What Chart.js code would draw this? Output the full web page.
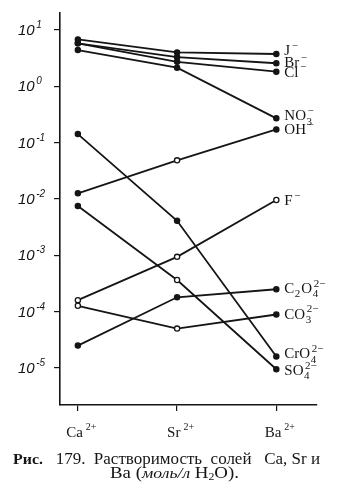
<!DOCTYPE html>
<html>
<head>
<meta charset="utf-8">
<script src="https://cdn.jsdelivr.net/npm/chart.js@4.4.1/dist/chart.umd.min.js"></script>
<style>
html,body{margin:0;padding:0;background:#fff;}
canvas{display:block;}
</style>
</head>
<body>
<canvas id="c" width="344" height="490"></canvas>
<script>
// ---- data (mol/L H2O) ----
const cations = ['Ca', 'Sr', 'Ba'];
const J_vals    = [6.8,    4.0,    3.75];
const Br_vals   = [5.8,    3.3,    2.57];
const Cl_vals   = [5.8,    2.73,   1.82];
const NO3_vals  = [4.4,    2.14,   0.27];
const OH_vals   = [0.0126, 0.0485, 0.172];
const F_vals    = [1.6e-4, 9.4e-4, 9.6e-3];
const C2O4_vals = [2.5e-5, 1.8e-4, 2.5e-4];
const CO3_vals  = [1.27e-4,5.0e-5, 8.9e-5];
const CrO4_vals = [0.142,  4.1e-3, 1.6e-5];
const SO4_vals  = [7.5e-3, 3.65e-4,9.5e-6];
const yTickExps = [1, 0, -1, -2, -3, -4, -5];

// anion label texts: [main, sub, sup] pieces
const anionNames = {
  J:    ['J', null, '−'],
  Br:   ['Br', null, '−'],
  Cl:   ['Cl', null, '−'],
  NO3:  ['NO', '3', '−'],
  OH:   ['OH', null, '−'],
  F:    ['F', null, '−'],
  C2O4: ['C', '2', null, 'O', '4', '2−'],
  CO3:  ['CO', '3', '2−'],
  CrO4: ['CrO', '4', '2−'],
  SO4:  ['SO', '4', '2−']
};

const series = [
  {key:'J',    vals:J_vals,    open:[0,0,0], dy:-4},
  {key:'Br',   vals:Br_vals,   open:[0,0,0], dy:-1},
  {key:'Cl',   vals:Cl_vals,   open:[0,0,0], dy:0},
  {key:'NO3',  vals:NO3_vals,  open:[0,0,0], dy:-3},
  {key:'OH',   vals:OH_vals,   open:[0,1,0], dy:0},
  {key:'F',    vals:F_vals,    open:[1,1,1], dy:0},
  {key:'C2O4', vals:C2O4_vals, open:[0,0,0], dy:-1},
  {key:'CO3',  vals:CO3_vals,  open:[1,1,0], dy:-1},
  {key:'CrO4', vals:CrO4_vals, open:[0,0,0], dy:-3},
  {key:'SO4',  vals:SO4_vals,  open:[0,1,0], dy:1}
];

const INK = '#151515';

function drawPieces(ctx, x, baseline, pieces, size) {
  let cx = x;
  for (let i = 0; i < pieces.length; i += 3) {
    const main = pieces[i], sub = pieces[i+1], sup = pieces[i+2];
    if (main) {
      ctx.font = size + 'px "Liberation Serif"';
      ctx.fillText(main, cx, baseline);
      cx += ctx.measureText(main).width + 0.5;
    }
    const s = Math.round(size * 0.7);
    ctx.font = s + 'px "Liberation Serif"';
    let w = 0;
    if (sub) { ctx.fillText(sub, cx, baseline + size * 0.28); w = Math.max(w, ctx.measureText(sub).width); }
    if (sup) { ctx.fillText(sup, cx + 1, baseline - size * 0.42); w = Math.max(w, ctx.measureText(sup).width + 1); }
    cx += w + (w ? 1 : 0);
  }
  return cx - x;
}

// draw a run of segments [text, font, dy], scaled horizontally to a target width
function drawRun(ctx, segs, x, y, width) {
  let total = 0;
  segs.forEach(([t, f]) => { ctx.font = f; total += ctx.measureText(t).width; });
  const k = width / total;
  ctx.save();
  ctx.translate(x, y);
  ctx.scale(k, 1);
  let cx = 0;
  segs.forEach(([t, f, dy]) => {
    ctx.font = f;
    ctx.fillText(t, cx, dy || 0);
    cx += ctx.measureText(t).width;
  });
  ctx.restore();
}

const labelPlugin = {
  id: 'labels',
  afterDraw(chart) {
    const ctx = chart.ctx;
    const xs = chart.scales.x, ys = chart.scales.y;
    ctx.save();
    ctx.fillStyle = INK;
    ctx.textBaseline = 'alphabetic';
    ctx.textAlign = 'left';
    // y tick labels 10^n
    yTickExps.forEach(e => {
      const py = ys.getPixelForValue(Math.pow(10, e));
      ctx.font = 'italic 15px "Liberation Sans"';
      ctx.fillText('10', 18, py + 5);
      const w = ctx.measureText('10').width;
      ctx.font = 'italic 10px "Liberation Sans"';
      ctx.fillText(e < 0 ? '-' + (-e) : String(e), 18 + w + 1.5, py - 2);
    });
    // x tick labels
    cations.forEach((c, i) => {
      const px = xs.getPixelForValue(i);
      ctx.font = '15px "Liberation Serif"';
      const w1 = ctx.measureText(c).width;
      ctx.font = '10px "Liberation Serif"';
      const w2 = ctx.measureText('2+').width;
      const x0 = px - (w1 + w2 + 2) / 2 + 3;
      ctx.font = '15px "Liberation Serif"';
      ctx.fillText(c, x0, 437);
      ctx.font = '10px "Liberation Serif"';
      ctx.fillText('2+', x0 + w1 + 3, 430);
    });
    // anion labels at the right end
    series.forEach((s, i) => {
      const pt = chart.getDatasetMeta(i).data[2];
      drawPieces(ctx, pt.x + 8, pt.y + 5 + s.dy, anionNames[s.key], 15);
    });
    // caption
    const F = '16px "Liberation Serif"';
    const FB = 'bold 15px "Liberation Serif"';
    const FI = 'italic 15px "Liberation Serif"';
    const FS = '10px "Liberation Serif"';
    drawRun(ctx, [['Рис.', FB], ['   179.  Растворимость  солей   Ca, Sr и', F]], 13, 464, 307);
    drawRun(ctx, [['Ba (', F], ['моль/л', FI], [' H', F], ['2', FS, 2], ['O).', F]], 110, 478, 129);
    ctx.restore();
  }
};

const datasets = series.map(s => ({
  label: s.key,
  data: s.vals.map((v, i) => ({x: i, y: v})),
  borderColor: INK,
  borderWidth: 1.8,
  pointRadius: 2.6,
  pointBorderWidth: 1.3,
  pointBorderColor: INK,
  pointBackgroundColor: s.open.map(o => o ? '#ffffff' : INK),
  tension: 0,
  fill: false
}));

new Chart(document.getElementById('c'), {
  type: 'line',
  data: { datasets },
  options: {
    responsive: false,
    devicePixelRatio: 1,
    animation: false,
    layout: { padding: { left: 0, top: 13, right: 27, bottom: 55 } },
    plugins: { legend: { display: false }, tooltip: { enabled: false } },
    scales: {
      x: {
        type: 'linear',
        min: -0.18, max: 2.41,
        afterBuildTicks: sc => { sc.ticks = cations.map((c, i) => ({ value: i })); },
        ticks: { display: false },
        grid: { drawOnChartArea: false, drawTicks: true, tickLength: 6, color: INK, lineWidth: 1.2 },
        border: { display: true, color: INK, width: 1.6 },
        afterFit: sc => { sc.height = 30; }
      },
      y: {
        type: 'logarithmic',
        min: Math.pow(10, -5.657), max: Math.pow(10, 1.302),
        afterBuildTicks: sc => { sc.ticks = yTickExps.map(e => ({ value: Math.pow(10, e) })); },
        ticks: { display: false },
        grid: { drawOnChartArea: false, drawTicks: true, tickLength: 6, color: INK, lineWidth: 1.2 },
        border: { display: true, color: INK, width: 1.6 },
        afterFit: sc => { sc.width = 60; }
      }
    }
  },
  plugins: [labelPlugin]
});
</script>
</body>
</html>
